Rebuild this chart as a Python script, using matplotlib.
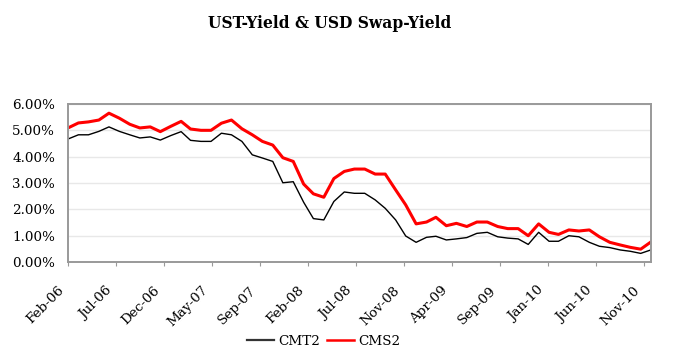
import matplotlib
matplotlib.use("Agg")
import matplotlib.pyplot as plt
import matplotlib.dates as mdates
import matplotlib.transforms as mtransforms
from matplotlib.lines import Line2D
from matplotlib.ticker import FuncFormatter, MultipleLocator
import pandas as pd

# Monatsend-Daten Feb-06 .. Nov-10 (58 Punkte), Renditen in %
fechas = pd.date_range("2006-02-28", periods=58, freq="ME")

cmt2 = [4.67, 4.83, 4.83, 4.96, 5.13, 4.96, 4.83, 4.71, 4.75, 4.63,
        4.80, 4.95, 4.62, 4.58, 4.58, 4.89, 4.83, 4.58, 4.07, 3.95,
        3.82, 3.01, 3.05, 2.27, 1.65, 1.60, 2.30, 2.66, 2.61, 2.61,
        2.36, 2.04, 1.60, 0.99, 0.75, 0.94, 0.98, 0.84, 0.88, 0.93,
        1.09, 1.13, 0.96, 0.91, 0.88, 0.67, 1.13, 0.79, 0.79, 1.00,
        0.96, 0.75, 0.60, 0.55, 0.46, 0.41, 0.33, 0.46]

cms2 = [5.09, 5.28, 5.32, 5.39, 5.65, 5.46, 5.23, 5.09, 5.13, 4.95,
        5.15, 5.34, 5.05, 5.00, 5.00, 5.27, 5.39, 5.06, 4.83, 4.58,
        4.44, 3.96, 3.82, 2.96, 2.59, 2.46, 3.17, 3.44, 3.53, 3.53,
        3.34, 3.34, 2.74, 2.17, 1.45, 1.52, 1.70, 1.38, 1.47, 1.35,
        1.52, 1.52, 1.35, 1.27, 1.27, 1.00, 1.45, 1.13, 1.05, 1.22,
        1.18, 1.22, 0.96, 0.75, 0.65, 0.56, 0.49, 0.76]

# Achsenbeschriftung alle 143 Tage (wie im Original-Excel)
ticks = pd.date_range("2006-02-28", periods=13, freq="143D")

plt.rcParams["font.family"] = "DejaVu Serif"

fig = plt.figure(figsize=(6.8, 3.61), dpi=100)
ax = fig.add_axes([0.100, 0.274, 0.857, 0.438])

ax.plot(fechas, cmt2, color="black", lw=1.0)
ax.plot(fechas, cms2, color="#ff0000", lw=2.2)

ax.set_xlim(fechas[0], fechas[-1])
ax.set_ylim(0, 6)
ax.yaxis.set_major_locator(MultipleLocator(1))
ax.yaxis.set_major_formatter(FuncFormatter(lambda v, p: f"{v:.2f}%"))
ax.set_xticks(ticks)
ax.xaxis.set_major_formatter(mdates.DateFormatter("%b-%y"))

ax.grid(axis="y", color="#e8e8e8", lw=1)
ax.set_axisbelow(True)
for s in ax.spines.values():
    s.set_color("#999999")
    s.set_linewidth(1.4)

ax.tick_params(axis="y", length=0, pad=9.4, labelsize=9.7)
ax.tick_params(axis="x", length=3, color="#999999", pad=16, labelsize=9.7)
desplaza = mtransforms.ScaledTranslation(-6 / 100, 0, fig.dpi_scale_trans)
for t in ax.get_xticklabels():
    t.set_rotation(45)
    t.set_ha("right")
    t.set_va("center")
    t.set_rotation_mode("anchor")
    t.set_transform(t.get_transform() + desplaza)

fig.text(0.485, 0.934, "UST-Yield & USD Swap-Yield", ha="center", va="center",
         fontsize=11.2, fontweight="bold")

handles = [Line2D([], [], color="#333333", lw=1.6),
           Line2D([], [], color="#ff0000", lw=1.8)]
fig.legend(handles, ["CMT2", "CMS2"], loc="center",
           bbox_to_anchor=(0.476, 0.055), ncol=2, frameon=False,
           handlelength=2.0, handletextpad=0.35, columnspacing=0.5,
           fontsize=9.7)

fig.savefig("out.png", dpi=100)
plt.close(fig)
